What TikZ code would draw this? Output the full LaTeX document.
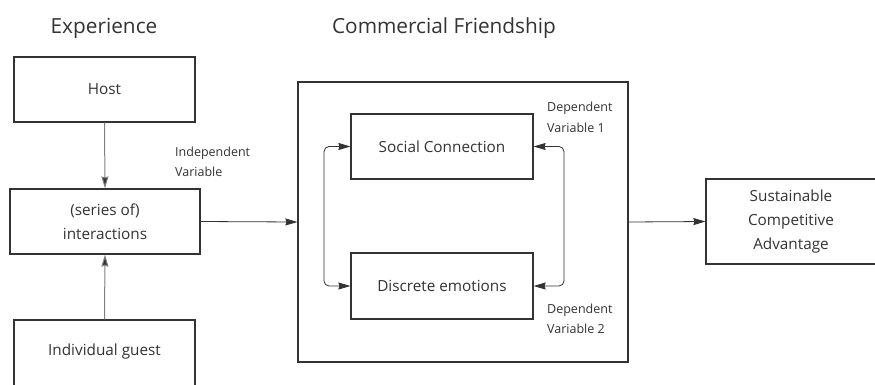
\documentclass[tikz,border=0pt]{standalone}
\usepackage{fontspec}
\setmainfont{Open Sans}
\usetikzlibrary{arrows.meta}
\definecolor{ink}{HTML}{333333}
\definecolor{soft}{HTML}{808080}
\tikzset{
  tip/.tip={Stealth[length=12pt,width=7pt,inset=1pt]},
  box/.style={draw=ink, line width=1.2pt, text=ink, font=\fontsize{15.3}{24}\selectfont, align=center, inner sep=0pt},
  lbl/.style={text=ink, font=\fontsize{12.5}{20.5}\selectfont, align=left, inner sep=0pt},
  ttl/.style={text=ink, font=\fontsize{20.8}{25}\selectfont, inner sep=0pt},
  arr/.style={draw=ink, line width=0.8pt, -{tip}},
  varr/.style={draw=soft, line width=1pt, -{tip[fill=ink]}},
  darr/.style={draw=ink, line width=0.8pt, {tip}-{tip}, rounded corners=5pt}
}
\begin{document}
\begin{tikzpicture}[x=1pt,y=-1pt]
\useasboundingbox (0,0) rectangle (875,384);
\fill[white] (0,0) rectangle (875,384);
\clip (0,0) rectangle (875,384);
\node[ttl] (t1) at (104,28) {Experience};
\node[ttl] (t2) at (444,28) {Commercial Friendship};
\node[box, minimum width=181pt, minimum height=65pt] (host) at (104.5,89.5) {Host};
\node[box, minimum width=190pt, minimum height=65pt] (inter) at (105,221.5) {(series of)\\interactions};
\node[box, minimum width=181pt, minimum height=68pt] (guest) at (104.5,354) {};
\node[text=ink, font=\fontsize{15.3}{24}\selectfont, inner sep=0pt] (guestt) at (104.5,352) {Individual guest};
\node[box, minimum width=330pt, minimum height=280pt] (big) at (463,222) {};
\node[box, minimum width=182pt, minimum height=65pt] (sc) at (442,146.5) {Social Connection};
\node[box, minimum width=182pt, minimum height=66pt] (de) at (442,286) {Discrete emotions};
\node[box, minimum width=170pt, minimum height=85pt] (sca) at (791,221.5) {Sustainable\\Competitive\\Advantage};
\node[lbl, anchor=west] (iv) at (175,162) {Independent\\Variable};
\node[lbl, anchor=west] (dv1) at (547,117.5) {Dependent\\Variable 1};
\node[lbl, anchor=west] (dv2) at (547,319) {Dependent\\Variable 2};
\coordinate (lx) at (324,0);
\coordinate (rx) at (564,0);
\draw[varr] (host.south) -- (inter.north);
\draw[varr] (guest.north) -- (inter.south);
\draw[arr] (inter.east) -- (big.west);
\draw[arr] (big.east) -- (sca.west);
\draw[darr] (sc.west) -| (lx |- de.west) -- (de.west);
\draw[darr] (sc.east) -| (rx |- de.east) -- (de.east);
\end{tikzpicture}
\end{document}
